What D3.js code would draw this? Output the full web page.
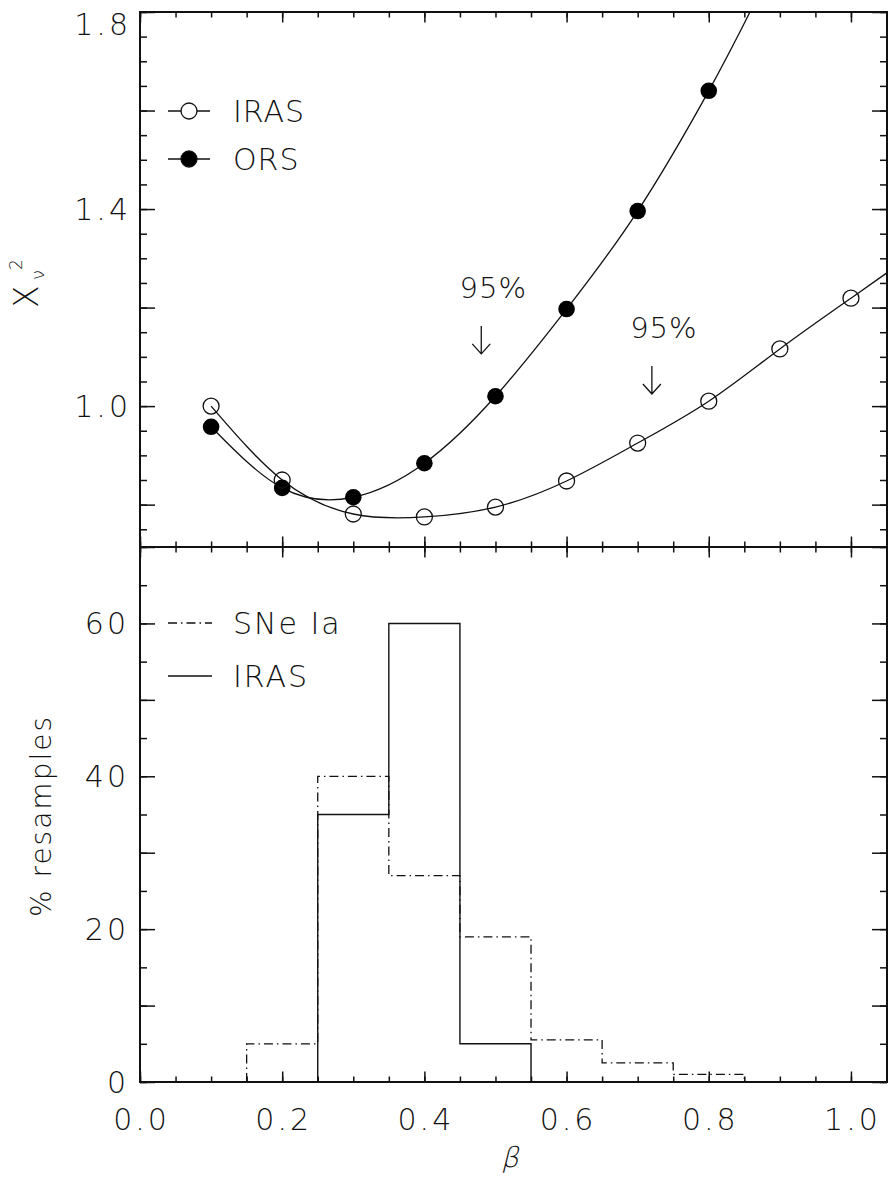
<html lang="en">
<head>
<meta charset="utf-8">
<title>chi2 and resamples vs beta</title>
<script src="https://cdn.jsdelivr.net/npm/d3@7"></script>
<style>
  body { margin: 0; background: #fff; }
  text { font-family: "DejaVu Sans", sans-serif; font-weight: 200; fill: #111; }
</style>
</head>
<body>
<script>
// top panel: reduced chi^2 against beta
var betaIRAS = [0.1, 0.2, 0.3, 0.4, 0.5, 0.6, 0.7, 0.8, 0.9, 1.0];
var chiIRAS  = [1.000, 0.850, 0.781, 0.775, 0.795, 0.848, 0.925, 1.010, 1.116, 1.219];
var betaORS  = [0.1, 0.2, 0.3, 0.4, 0.5, 0.6, 0.7, 0.8];
var chiORS   = [0.958, 0.834, 0.815, 0.884, 1.020, 1.197, 1.396, 1.640];
// where the fitted curves leave the frame
var fitEndIRAS = [1.05, 1.27];
var fitEndORS  = [0.858, 1.8];
// 95% arrows (beta, chi at arrow tip)
var arrowBeta = [0.48, 0.72];
var arrowChi  = [1.106, 1.0245];
var arrowText = ["95%", "95%"];

// bottom panel: histograms of resamples
var binLo    = [0.15, 0.25, 0.35, 0.45, 0.55, 0.65, 0.75];
var binWidth = 0.1;
var sneIa    = [5, 40, 27, 19, 5.5, 2.5, 1];
var irasHist = [0, 35, 60, 5, 0, 0, 0];

var xTickLabels   = [0.0, 0.2, 0.4, 0.6, 0.8, 1.0];
var yTopLabels    = [1.0, 1.4, 1.8];
var yBotLabels    = [0, 20, 40, 60];

var W = 889, H = 1179;
var pLeft = 140, pRight = 887, pTop = 12, pMid = 547, pBottom = 1082;

var x = d3.scaleLinear().domain([0, 1.05]).range([pLeft, 886.5]);
var yTop = d3.scaleLinear().domain([0.714, 1.8]).range([pMid, pTop]);
var yBot = d3.scaleLinear().domain([0, 70]).range([pBottom, pMid]);

var svg = d3.select("body").append("svg")
    .attr("width", W)
    .attr("height", H);

// ---- ticks ----
function tickAxis(gen, values, size, tx, ty) {
    var g = svg.append("g")
        .attr("transform", "translate(" + tx + "," + ty + ")")
        .call(gen.tickValues(values).tickSize(size).tickFormat(""));
    g.select(".domain").remove();
    g.selectAll("line").attr("stroke", "#111").attr("stroke-width", 1.5);
}

var xMinor = d3.range(0, 21).map(function(i){ return i * 0.05; });
var xMajor = [0, 0.2, 0.4, 0.6, 0.8, 1.0];
var yTopMinor = d3.range(0, 22).map(function(i){ return 0.75 + i * 0.05; });
var yTopMajor = [0.8, 1.0, 1.2, 1.4, 1.6, 1.8];
var yBotMinor = d3.range(0, 15).map(function(i){ return i * 5; });
var yBotMajor = [0, 10, 20, 30, 40, 50, 60, 70];

// x ticks: top edge, middle (both ways), bottom edge
[[d3.axisTop(x), pTop], [d3.axisTop(x), pMid], [d3.axisBottom(x), pMid], [d3.axisBottom(x), pBottom]]
  .forEach(function(a) {
      tickAxis(a[0], xMinor, -5.5, 0, a[1]);
      tickAxis(a[0], xMajor, -10.5, 0, a[1]);
  });
// y ticks on both sides
tickAxis(d3.axisLeft(yTop), yTopMinor, -7, pLeft, 0);
tickAxis(d3.axisLeft(yTop), yTopMajor, -15, pLeft, 0);
tickAxis(d3.axisRight(yTop), yTopMinor, -7, pRight, 0);
tickAxis(d3.axisRight(yTop), yTopMajor, -15, pRight, 0);
tickAxis(d3.axisLeft(yBot), yBotMinor, -7, pLeft, 0);
tickAxis(d3.axisLeft(yBot), yBotMajor, -15, pLeft, 0);
tickAxis(d3.axisRight(yBot), yBotMinor, -7, pRight, 0);
tickAxis(d3.axisRight(yBot), yBotMajor, -15, pRight, 0);

// frame
svg.append("rect")
    .attr("x", pLeft).attr("y", pTop)
    .attr("width", pRight - pLeft).attr("height", pBottom - pTop)
    .attr("fill", "none").attr("stroke", "#111").attr("stroke-width", 2);
svg.append("line")
    .attr("x1", pLeft).attr("x2", pRight).attr("y1", pMid).attr("y2", pMid)
    .attr("stroke", "#111").attr("stroke-width", 2);

// ---- tick labels ----
svg.selectAll(".xlab").data(xTickLabels).enter().append("text")
    .attr("x", function(d){ return x(d) + 1.5; })
    .attr("y", 1130)
    .attr("text-anchor", "middle")
    .attr("font-size", 30)
    .attr("letter-spacing", 3)
    .text(function(d){ return d3.format(".1f")(d); });

svg.selectAll(".ytlab").data(yTopLabels).enter().append("text")
    .attr("x", 131)
    .attr("y", function(d){ return d === 1.8 ? yTop(d) + 23 : yTop(d) + 11; })
    .attr("text-anchor", "end")
    .attr("font-size", 30)
    .attr("letter-spacing", 3)
    .text(function(d){ return d3.format(".1f")(d); });

svg.selectAll(".yblab").data(yBotLabels).enter().append("text")
    .attr("x", 129)
    .attr("y", function(d){ return yBot(d) + 11; })
    .attr("text-anchor", "end")
    .attr("font-size", 30)
    .attr("letter-spacing", 3)
    .text(function(d){ return d; });

// ---- axis titles ----
var chi = svg.append("g").attr("transform", "translate(38,308) rotate(-90)");
chi.append("text").attr("x", 0).attr("y", 0).attr("font-size", 33).text("Χ");
chi.append("text").attr("x", 38).attr("y", -16).attr("font-size", 17).text("2");
chi.append("text").attr("x", 28).attr("y", 6).attr("font-size", 18).text("ν");

svg.append("text")
    .attr("transform", "translate(51,816) rotate(-90)")
    .attr("text-anchor", "middle")
    .attr("font-size", 28)
    .attr("letter-spacing", 2)
    .text("% resamples");

// slanted by hand so the light weight is kept
svg.append("text")
    .attr("transform", "translate(510,1167) skewX(-14)")
    .attr("text-anchor", "middle")
    .attr("font-size", 28)
    .text("β");

// ---- top panel curves and points ----
var iras = betaIRAS.map(function(b, i){ return [b, chiIRAS[i]]; });
var ors  = betaORS.map(function(b, i){ return [b, chiORS[i]]; });

var line = d3.line()
    .x(function(d){ return x(d[0]); })
    .y(function(d){ return yTop(d[1]); })
    .curve(d3.curveNatural);

svg.append("defs").append("clipPath").attr("id", "clipTop")
  .append("rect").attr("x", pLeft).attr("y", pTop)
  .attr("width", pRight - pLeft).attr("height", pMid - pTop);

var topG = svg.append("g").attr("clip-path", "url(#clipTop)");
topG.append("path").datum(iras.concat([fitEndIRAS]))
    .attr("d", line).attr("fill", "none").attr("stroke", "#111").attr("stroke-width", 1.3);
topG.append("path").datum(ors.concat([fitEndORS]))
    .attr("d", line).attr("fill", "none").attr("stroke", "#111").attr("stroke-width", 1.3);

svg.selectAll(".ors").data(ors).enter().append("circle")
    .attr("cx", function(d){ return x(d[0]); })
    .attr("cy", function(d){ return yTop(d[1]); })
    .attr("r", 8.3)
    .attr("fill", "#000");
svg.selectAll(".iras").data(iras).enter().append("circle")
    .attr("cx", function(d){ return x(d[0]); })
    .attr("cy", function(d){ return yTop(d[1]); })
    .attr("r", 8)
    .attr("fill", "none")
    .attr("stroke", "#111").attr("stroke-width", 1.3);

// 95% arrows
arrowBeta.forEach(function(b, i) {
    var ax = x(b), ay = yTop(arrowChi[i]);
    svg.append("path")
        .attr("d", "M" + ax + "," + (ay - 28) + "V" + ay +
                   "M" + (ax - 9) + "," + (ay - 10) + "L" + ax + "," + ay + "L" + (ax + 9) + "," + (ay - 10))
        .attr("fill", "none").attr("stroke", "#111").attr("stroke-width", 1.3);
    svg.append("text")
        .attr("x", ax + 12).attr("y", ay - 28 - 28)
        .attr("text-anchor", "middle")
        .attr("font-size", 29)
        .attr("letter-spacing", 1)
        .text(arrowText[i]);
});

// top legend
var topLegend = [["IRAS", "none", 111], ["ORS", "#000", 159]];
topLegend.forEach(function(l) {
    svg.append("line").attr("x1", 168).attr("x2", 210).attr("y1", l[2]).attr("y2", l[2])
        .attr("stroke", "#111").attr("stroke-width", 1.3);
    svg.append("circle").attr("cx", 189).attr("cy", l[2]).attr("r", 8)
        .attr("fill", l[1] === "none" ? "#fff" : "#000")
        .attr("stroke", "#111").attr("stroke-width", 1.3);
    svg.append("text").attr("x", 233).attr("y", l[2] + 11)
        .attr("font-size", 30).attr("letter-spacing", 1).text(l[0]);
});

// ---- bottom panel histograms ----
function steps(vals) {
    var first = vals.findIndex(function(v){ return v > 0; });
    var last = vals.length - 1;
    while (vals[last] === 0) last--;
    var pts = [[binLo[first], 0]];
    for (var i = first; i <= last; i++) {
        pts.push([binLo[i], vals[i]]);
        pts.push([binLo[i] + binWidth, vals[i]]);
    }
    pts.push([binLo[last] + binWidth, 0]);
    return pts;
}
var hline = d3.line()
    .x(function(d){ return x(d[0]); })
    .y(function(d){ return yBot(d[1]); });

svg.append("path").datum(steps(sneIa))
    .attr("d", hline).attr("fill", "none")
    .attr("stroke", "#111").attr("stroke-width", 1.3)
    .attr("stroke-dasharray", "9,4,1.5,4");
svg.append("path").datum(steps(irasHist))
    .attr("d", hline).attr("fill", "none")
    .attr("stroke", "#111").attr("stroke-width", 1.4);

// bottom legend
var botLegend = [["SNe Ia", "9,4,1.5,4", 623], ["IRAS", null, 676]];
botLegend.forEach(function(l) {
    svg.append("line").attr("x1", 168).attr("x2", 212).attr("y1", l[2]).attr("y2", l[2])
        .attr("stroke", "#111").attr("stroke-width", 1.3)
        .attr("stroke-dasharray", l[1]);
    svg.append("text").attr("x", 233).attr("y", l[2] + 11)
        .attr("font-size", 30).attr("letter-spacing", 2).text(l[0]);
});
</script>
</body>
</html>
